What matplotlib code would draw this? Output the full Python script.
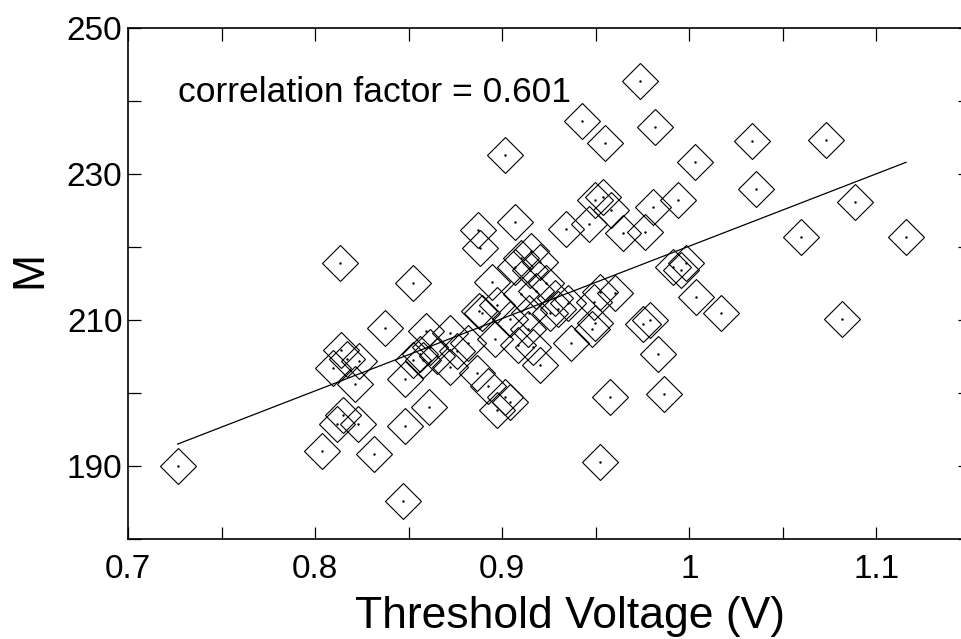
import matplotlib
matplotlib.use('Agg')
import matplotlib.pyplot as plt
import numpy as np

plt.rcParams['font.family'] = ['Liberation Sans', 'DejaVu Sans']

# threshold voltage (V) and M
vth = [0.7265, 0.8035, 0.8314, 0.8471, 0.8478, 0.8115, 0.8147, 0.8229, 0.8608, 0.8483,
       0.8132, 0.8522, 0.8375, 0.8592, 0.8136, 0.8168, 0.8236, 0.8097, 0.8213, 0.8560,
       0.8578, 0.8613, 0.8649, 0.8524, 0.8720, 0.8756, 0.8720, 0.8818,
       0.8877, 0.8890, 0.8970, 0.8943, 0.9040, 0.9138, 0.9144, 0.9254, 0.9352, 0.9083,
       0.8964, 0.9165, 0.9200, 0.9365, 0.8863, 0.8925, 0.9014, 0.9040, 0.8970, 0.9103,
       0.9156, 0.9200, 0.9067, 0.9147, 0.9234, 0.8871, 0.8880, 0.9068, 0.9014, 0.9343,
       0.9463, 0.9495, 0.9539, 0.9580, 0.9646, 0.9764, 0.9806, 0.9940, 0.9425, 0.9550,
       0.9737, 0.9815, 1.0030, 1.0335, 1.0730, 1.0355, 1.0887, 1.0597, 1.1158, 0.9957,
       0.9913, 0.9984, 1.0038, 1.0170, 0.9753, 0.9789, 0.9831, 0.9575, 0.9867, 0.9525,
       1.0814, 0.9498, 0.9480, 0.9601, 0.9489, 0.9521, 0.9180, 0.9280, 0.9100, 0.9300]
M = [190.0, 192.0, 191.7, 185.2, 195.5, 195.8, 197.0, 195.8, 198.1, 201.9,
     217.8, 215.1, 208.9, 208.5, 205.9, 204.7, 204.4, 203.4, 201.2, 205.4,
     204.5, 206.3, 205.0, 204.5, 208.2, 205.7, 203.6, 206.8,
     211.3, 211.0, 212.1, 215.2, 210.2, 208.7, 210.9, 210.9, 212.3, 206.6,
     207.4, 206.3, 203.8, 206.9, 202.8, 200.9, 199.4, 198.8, 197.7, 218.5,
     219.4, 218.0, 217.3, 216.8, 215.0, 222.3, 219.8, 223.4, 232.6, 222.5,
     223.1, 226.5, 226.9, 225.0, 221.9, 222.1, 225.5, 226.5, 237.3, 234.3,
     242.7, 236.4, 231.6, 234.5, 234.7, 227.9, 226.2, 221.4, 221.4, 216.9,
     217.3, 217.8, 213.1, 210.9, 209.5, 210.0, 205.3, 199.5, 199.8, 190.6,
     210.1, 209.6, 208.7, 213.7, 212.5, 213.9, 214.0, 213.0, 213.5, 211.5]

# end points of the fitted line
fit_x = [0.7265, 1.1158]
fit_y = [193.0, 231.6]

xticks = [0.7, 0.75, 0.8, 0.85, 0.9, 0.95, 1.0, 1.05, 1.1, 1.15]
xlabels = ['0.7', '', '0.8', '', '0.9', '', '1', '', '1.1', '']
yticks = [180, 190, 200, 210, 220, 230, 240, 250]
ylabels = ['', '190', '', '210', '', '230', '', '250']

fig = plt.figure(figsize=(9.62, 6.39), dpi=100)
ax = fig.add_axes([128/962, 100/639, 842/962, 511/639])

ax.plot(vth, M, 'D', mfc='none', mec='k', ms=18.3, mew=0.8)
ax.plot(vth, M, '.', color='k', ms=1.5)
ax.plot(fit_x, fit_y, 'k-', lw=0.9)

ax.set_xlim(0.7, 1.15)
ax.set_ylim(180, 250)
ax.set_xticks(xticks)
ax.set_xticklabels(xlabels)
ax.set_yticks(yticks)
ax.set_yticklabels(ylabels)
ax.tick_params(direction='in', length=9, width=0.9, top=True, right=True, labelsize=24)
ax.tick_params(axis='x', pad=11)
ax.tick_params(axis='y', pad=4)
for s in ax.spines.values():
    s.set_linewidth(1.2)

ax.text(0.7267, 239.9, 'correlation factor = 0.601', fontsize=25.5, va='baseline', ha='left')

fig.text(570/962, 1 - 628/639, 'Threshold Voltage (V)', fontsize=32, ha='center', va='baseline')
fig.text(30/962, 1 - 270/639, 'M', fontsize=32, rotation=90, ha='center', va='center')

fig.savefig('out.png', dpi=100)
